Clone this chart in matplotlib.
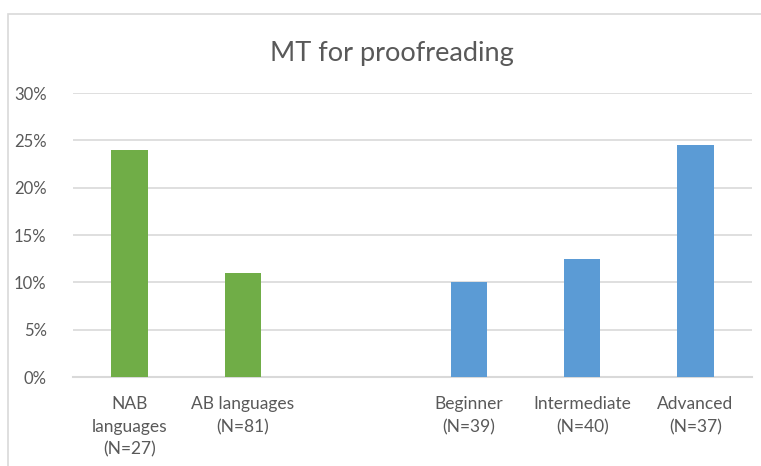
import matplotlib.pyplot as plt
from matplotlib.patches import Rectangle
from matplotlib.ticker import PercentFormatter

# data (empty slot separates the two groups)
categories = ["NAB\nlanguages\n(N=27)", "AB languages\n(N=81)", "",
              "Beginner\n(N=39)", "Intermediate\n(N=40)", "Advanced\n(N=37)"]
values = [24.0, 11.0, 0.0, 10.0, 12.5, 24.5]
colors = ["#70AD47", "#70AD47", "none", "#5B9BD5", "#5B9BD5", "#5B9BD5"]

plt.rcParams["font.family"] = ["Lato", "DejaVu Sans"]
text_col = "#595959"

fig = plt.figure(figsize=(7.61, 4.66), dpi=100)
# chart frame (Excel-style light border)
fig.patches.append(Rectangle((8 / 761, -0.1), 1.2, 1 - 14 / 466 + 0.1,
                             transform=fig.transFigure, fill=False,
                             edgecolor="#d9d9d9", lw=1.2))

ax = fig.add_axes([73 / 761, 1 - 377 / 466, 679 / 761, 284 / 466])
x = range(len(categories))
ax.bar(x, values, width=0.32, color=colors, zorder=3)

ax.set_xlim(-0.5, len(categories) - 0.5)
ax.set_ylim(0, 30)
ax.set_yticks([0, 5, 10, 15, 20, 25, 30])
ax.yaxis.set_major_formatter(PercentFormatter(decimals=0))
ax.grid(axis="y", color="#d9d9d9", lw=1.2, zorder=0)

ax.set_xticks(list(x))
ax.set_xticklabels(categories, linespacing=1.5)
ax.tick_params(axis="both", length=0, colors=text_col)
ax.tick_params(axis="y", pad=19, labelsize=12)
ax.tick_params(axis="x", pad=14, labelsize=12.5)

for s in ["top", "right", "left"]:
    ax.spines[s].set_visible(False)
ax.spines["bottom"].set_color("#d9d9d9")
ax.spines["bottom"].set_linewidth(1.5)

fig.text(392 / 761, 1 - 53 / 466, "MT for proofreading", ha="center",
         va="center", fontsize=19.5, color=text_col)

fig.savefig("out.png", dpi=100)
